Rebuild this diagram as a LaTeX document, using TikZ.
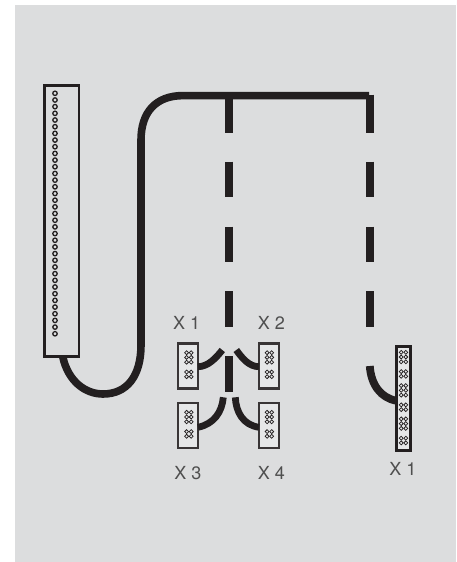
\documentclass[tikz,border=0pt]{standalone}
\usepackage{fontspec}
\usetikzlibrary{calc}
\setmainfont{TeX Gyre Heros}
\definecolor{bggray}{HTML}{DCDDDE}
\definecolor{ink}{HTML}{231F20}
\definecolor{labelgray}{HTML}{4F4F4F}
\definecolor{boxfill}{HTML}{E6E7E8}
\tikzset{
  cable/.style={draw=ink,line width=7.6pt,line cap=butt},
  branch/.style={draw=ink,line width=6.8pt,line cap=butt},
  plugbox/.style={draw=ink!90,line width=2.6pt,fill=boxfill,inner sep=0pt,outer sep=0pt,minimum width=20pt,minimum height=45pt},
  bigbox/.style={draw=ink,line width=2.5pt,fill=bggray,inner sep=0pt,outer sep=0pt,minimum width=34.5pt,minimum height=271pt},
  longbox/.style={draw=ink,line width=2.6pt,fill=boxfill,inner sep=0pt,outer sep=0pt,minimum width=14.2pt,minimum height=104pt},
  pin/.style={draw=ink,line width=.75pt,fill=none},
  bigpin/.style={draw=ink,line width=1.3pt,fill=none},
  xlabel/.style={text=labelgray,font=\fontsize{18}{20}\selectfont,inner sep=0pt}
}
\newcommand{\pinblock}[2]{%
  \foreach \ry in {0,4.7,9.5,19.3,24}{
    \draw[pin] (#1-2.3,#2+\ry) circle (1.95);
    \draw[pin] (#1+2.3,#2+\ry) circle (1.95);
  }}
\begin{document}
\begin{tikzpicture}[x=1pt,y=-1pt]
\useasboundingbox (0,0) rectangle (456,562);
\fill[bggray] (15,5) rectangle (456,562);

% main cable is drawn first so the boxes sit on top of its ends
\node[bigbox] (main) at (61.6,221.2) {};
\coordinate (leave) at ($(main.south west)+(18.4,0)$);
\coordinate (tap) at (229,95.6);
\coordinate (cornerR) at (369,95.6);
\coordinate (tapR) at (370,94.7);
\coordinate (forkL) at (229,391.7);

\path[cable] (leave) .. controls (68,381) and (85,394) .. (103,394)
  .. controls (127,394) and (141,376) .. (141,345) -- (141,140)
  .. controls (141,112) and (156,95.6) .. (183,95.6) -- (cornerR);

% boxes
\node[plugbox] (xa) at (187.9,365.8) {};
\node[plugbox] (xb) at (269,365.8) {};
\node[plugbox] (xc) at (187.9,425.3) {};
\node[plugbox] (xd) at (269,425.3) {};
\node[longbox] (xe) at (403.5,398.7) {};

% pins
\foreach \i in {0,...,36}{ \draw[bigpin] (55,93.3+\i*6.68) circle (2.2); }
\pinblock{188.9}{352.7}
\pinblock{269.4}{352.7}
\pinblock{188.9}{412.3}
\pinblock{269.4}{412.3}
\foreach \k in {0,1,2}{ \pinblock{403.5}{352.3+\k*33.3} }

% dashed runs, left
\path[cable] (tap) -- (229,132.7);
\path[cable] (229,161.7) -- (229,197.3);
\path[cable] (229,226.7) -- (229,262);
\path[cable] (229,291) -- (229,326.7);
\path[cable] (229,356) -- (forkL);
% dashed runs, right
\path[cable,line width=7.8pt] (tapR) -- (370,132.7);
\path[cable,line width=7.8pt] (370,161.7) -- (370,197.3);
\path[cable,line width=7.8pt] (370,226.7) -- (370,262);
\path[cable,line width=7.8pt] (370,291) -- (370,326.7);

% branches
\path[branch] (xa.east |- 0,366.7) .. controls (208,366.7) and (216,358) .. (222.3,350);
\path[branch] (xb.west |- 0,366.7) .. controls (249,366.7) and (242,358) .. (236.3,350);
\path[branch] (xc.east |- 0,427.3) .. controls (214,424) and (222,412) .. (223.3,397.3);
\path[branch] (xd.west |- 0,427.3) .. controls (243,425) and (236,412) .. (235.3,397.3);
\path[branch,line width=7.8pt] (369.8,366) .. controls (371,385) and (381,398) .. (xe.west |- 0,400.7);

% labels
\node[xlabel] (la) at (186.7,322.5) {X 1};
\node[xlabel] (lb) at (271.3,322.5) {X 2};
\node[xlabel] (lc) at (187.8,473.3) {X 3};
\node[xlabel] (ld) at (271.3,473.3) {X 4};
\node[xlabel] (le) at (403,469) {X 1};
\end{tikzpicture}
\end{document}
